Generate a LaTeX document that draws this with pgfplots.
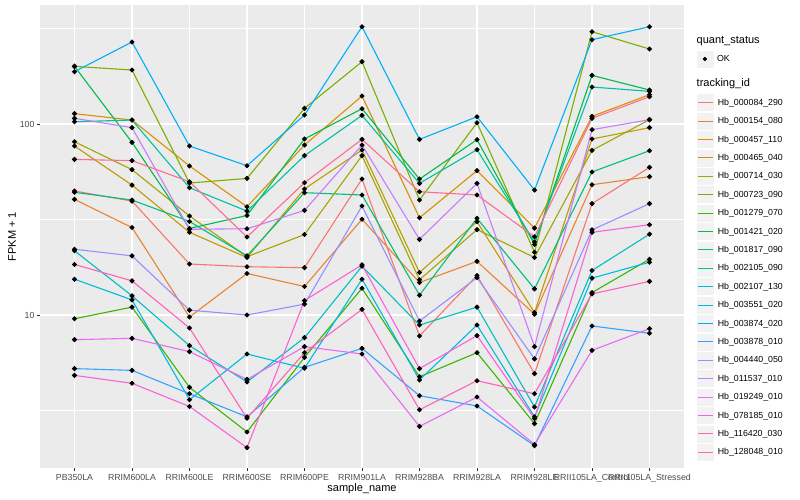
\documentclass[border=0pt]{standalone}
\usepackage{fontspec}
\setmainfont{Liberation Sans}
\usepackage{pgfplots}
\usepackage{pgfplotstable}
\pgfplotsset{compat=1.18}

% ggplot hue palette, 20 levels
\definecolor{c01}{HTML}{F8766D}
\definecolor{c02}{HTML}{EA8331}
\definecolor{c03}{HTML}{D89000}
\definecolor{c04}{HTML}{C09B00}
\definecolor{c05}{HTML}{A3A500}
\definecolor{c06}{HTML}{7CAE00}
\definecolor{c07}{HTML}{39B600}
\definecolor{c08}{HTML}{00BB4E}
\definecolor{c09}{HTML}{00BF7D}
\definecolor{c10}{HTML}{00C1A3}
\definecolor{c11}{HTML}{00BFC4}
\definecolor{c12}{HTML}{00BAE0}
\definecolor{c13}{HTML}{00B0F6}
\definecolor{c14}{HTML}{35A2FF}
\definecolor{c15}{HTML}{9590FF}
\definecolor{c16}{HTML}{C77CFF}
\definecolor{c17}{HTML}{E76BF3}
\definecolor{c18}{HTML}{FA62DB}
\definecolor{c19}{HTML}{FF62BC}
\definecolor{c20}{HTML}{FF6C91}
\definecolor{ggpanel}{HTML}{EBEBEB}
\definecolor{ggkey}{HTML}{F2F2F2}
\definecolor{ggtick}{HTML}{333333}
\definecolor{ggtext}{HTML}{4D4D4D}

% FPKM + 1 per sample (rows) and gene (columns)
\pgfplotstableread{
x  h084  h154  h457  h465  h714  h723  h1279 h1421 h1817 h2105 h2107 h3551 h3874 h3878 h4440 h11537 h19249 h78185 h116420 h128048
0  44.6  40.3  113.3 76.7  80.8  200.4 9.56  200.4 43.9  102.8 21.7  15.4  187.9 5.24  22.1  107.1  7.43   4.83   18.4    65.3
1  39.5  28.7  104.9 47.9  57.7  191.8 11.0  80.2  40.0  104.9 12.6  12.0  268.8 5.13  20.4  95.7   7.55   4.39   15.1    64.3
2  18.5  9.76  60.3  27.1  33.0  49.1  4.18  28.4  30.9  46.4  6.91  3.60  76.7  3.87  10.6  28.1   6.43   3.32   8.55    49.9
3  17.9  16.5  36.9  20.0  20.2  51.9  2.44  33.2  20.4  35.0  4.46  6.25  60.5  2.93  10.0  28.3   4.60   2.02   2.88    25.6
4  17.7  14.1  77.6  45.7  26.4  120.8 6.00  83.5  43.7  68.3  7.61  5.26  111.5 5.32  11.4  35.3   6.83   11.9   6.35    49.3
5  51.5  31.7  140.1 73.1  68.3  212.1 13.8  120.3 42.5  111.0 18.0  15.4  323.3 6.69  37.2  77.6   6.25   18.3   10.7    83.1
6  7.77  14.8  32.3  16.7  15.3  40.0  4.75  51.5  12.7  48.9  8.86  4.57  83.1  3.78  9.30  24.9   2.61   5.24   3.19    44.2
7  16.1  19.1  57.0  30.8  28.0  101.6 6.35  82.8  32.1  73.4  11.0  8.86  109.2 3.34  15.7  48.9   3.72   7.80   4.53    42.5
8  4.93  10.1  28.5  10.3  20.0  21.3  2.70  23.4  13.7  24.1  3.30  2.93  45.1  2.07  5.89  6.83   2.10   2.87   3.87    25.7
9  38.3  48.1  109.7 83.5  72.8  304.3 13.1  179.8 56.1  156.2 17.1  15.6  276.4 8.76  27.9  93.4   6.53   27.1   12.9    107.1
10 59.3  53.0  142.4 95.7  105.4 247.0 19.6  150.7 72.5  148.3 26.5  18.9  323.3 8.02  38.3  105.4  8.48   29.7   15.0    139.0
}\fpkm

\begin{document}
\begin{tikzpicture}
\fill[white] (0,0) rectangle (800pt,500pt);
\useasboundingbox (0,0) rectangle (800pt,500pt);

\begin{axis}[
  at={(40pt,32pt)}, anchor=south west,
  scale only axis, width=644pt, height=463pt,
  ymode=log, ymin=1.581, ymax=420,
  xmin=-0.6, xmax=10.6,
  xtick={0,1,2,3,4,5,6,7,8,9,10},
  xticklabels={PB350LA,RRIM600LA,RRIM600LE,RRIM600SE,RRIM600PE,RRIM901LA,RRIM928BA,RRIM928LA,RRIM928LE,RRII105LA\_Control,RRII105LA\_Stressed},
  ytick={10,100}, yticklabels={10,100},
  minor ytick={3.1623,31.623,316.23},
  xmajorgrids, ymajorgrids, yminorgrids,
  major grid style={white, line width=1.1pt},
  minor grid style={white, line width=0.55pt},
  axis background/.style={fill=ggpanel},
  axis line style={draw=none},
  tick align=outside, xtick pos=left, ytick pos=left,
  major tick length=3.5pt, minor tick length=0pt,
  tick style={ggtick, line width=0.75pt},
  ticklabel style={font=\fontsize{8.8}{10}\selectfont, text=ggtext},
  xticklabel style={anchor=north, inner sep=0pt, yshift=-2.5pt},
  yticklabel style={anchor=east, inner sep=0pt, xshift=-1.8pt},
  xlabel={sample\_name}, ylabel={FPKM + 1},
  label style={font=\fontsize{11}{13}\selectfont},
  xlabel style={at={(axis description cs:0.5,-0.0508)}, anchor=base},
  ylabel style={at={(axis description cs:-0.0373,0.5)}, anchor=base},
  every axis plot/.append style={line width=1.1pt},
  legend image code/.code={
    \fill[ggkey] (0pt,-8pt) rectangle (16pt,8pt);
    \draw[#1] (0.5pt,0.2pt) -- (15.5pt,0.2pt);},
  legend cell align=left,
  legend style={at={(axis description cs:1.0197,0.8071)}, anchor=north west,
    draw=none, fill=none, inner sep=0pt, outer sep=0pt,
    row sep=1.3pt, column sep=2pt,
    nodes={inner sep=2pt},
    font=\fontsize{8.8}{10}\selectfont},
  legend entries={Hb\_000084\_290,Hb\_000154\_080,Hb\_000457\_110,Hb\_000465\_040,Hb\_000714\_030,Hb\_000723\_090,Hb\_001279\_070,Hb\_001421\_020,Hb\_001817\_090,Hb\_002105\_090,Hb\_002107\_130,Hb\_003551\_020,Hb\_003874\_020,Hb\_003878\_010,Hb\_004440\_050,Hb\_011537\_010,Hb\_019249\_010,Hb\_078185\_010,Hb\_116420\_030,Hb\_128048\_010},
]
\addplot[c01] table[x=x, y=h084] {\fpkm};
\addplot[c02] table[x=x, y=h154] {\fpkm};
\addplot[c03] table[x=x, y=h457] {\fpkm};
\addplot[c04] table[x=x, y=h465] {\fpkm};
\addplot[c05] table[x=x, y=h714] {\fpkm};
\addplot[c06] table[x=x, y=h723] {\fpkm};
\addplot[c07] table[x=x, y=h1279] {\fpkm};
\addplot[c08] table[x=x, y=h1421] {\fpkm};
\addplot[c09] table[x=x, y=h1817] {\fpkm};
\addplot[c10] table[x=x, y=h2105] {\fpkm};
\addplot[c11] table[x=x, y=h2107] {\fpkm};
\addplot[c12] table[x=x, y=h3551] {\fpkm};
\addplot[c13] table[x=x, y=h3874] {\fpkm};
\addplot[c14] table[x=x, y=h3878] {\fpkm};
\addplot[c15] table[x=x, y=h4440] {\fpkm};
\addplot[c16] table[x=x, y=h11537] {\fpkm};
\addplot[c17] table[x=x, y=h19249] {\fpkm};
\addplot[c18] table[x=x, y=h78185] {\fpkm};
\addplot[c19] table[x=x, y=h116420] {\fpkm};
\addplot[c20] table[x=x, y=h128048] {\fpkm};
% points on top of all lines
\pgfplotsinvokeforeach{h084,h154,h457,h465,h714,h723,h1279,h1421,h1817,h2105,h2107,h3551,h3874,h3878,h4440,h11537,h19249,h78185,h116420,h128048}{
  \addplot[only marks, forget plot, mark=*, mark size=1.9pt,
    mark options={fill=black, draw=none}] table[x=x, y=#1] {\fpkm};
}
\end{axis}

% quant_status legend
\begin{axis}[
  at={(40pt,32pt)}, anchor=south west,
  scale only axis, width=644pt, height=463pt,
  hide axis, xmin=0, xmax=1, ymin=0, ymax=1,
  legend cell align=left,
  legend style={at={(axis description cs:1.0197,0.9011)}, anchor=north west,
    draw=none, fill=none, inner sep=0pt, outer sep=0pt,
    column sep=2pt, nodes={inner sep=2pt},
    font=\fontsize{8.8}{10}\selectfont},
]
\addlegendimage{legend image code/.code={
    \fill[ggkey] (0pt,-8pt) rectangle (16pt,8pt);
    \fill[black] (8pt,0pt) circle (1.9pt);}}
\addlegendentry{OK}
\end{axis}

\node[anchor=base west, inner sep=0pt, font=\fontsize{11}{13}\selectfont] at (696.5pt,456.7pt) {quant\_status};
\node[anchor=base west, inner sep=0pt, font=\fontsize{11}{13}\selectfont] at (696.5pt,413.3pt) {tracking\_id};
\end{tikzpicture}
\end{document}
